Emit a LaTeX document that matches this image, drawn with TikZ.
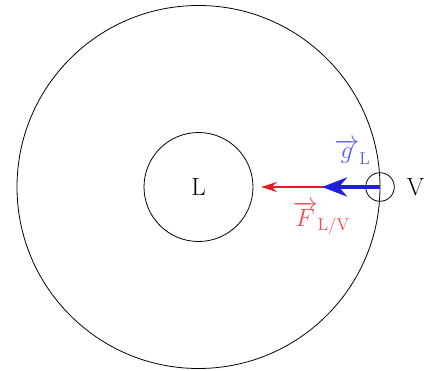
\documentclass[tikz,border=0pt]{standalone}
\usetikzlibrary{arrows.meta}
\definecolor{arrred}{RGB}{222,30,38}
\definecolor{arrblue}{RGB}{30,30,222}
\definecolor{txtred}{RGB}{250,70,70}
\definecolor{txtblue}{RGB}{90,90,250}
\begin{document}
\begin{tikzpicture}[x=1pt,y=1pt,
  circ/.style={draw,circle,line width=0.8pt,inner sep=0pt},
  lbl/.style={font=\huge,inner sep=0pt},
  redarrow/.style={draw=arrred,line width=2pt,-{Stealth[length=16pt,width=10pt]}},
  bluearrow/.style={draw=arrblue,line width=4pt,-{Stealth[length=25pt,width=19pt]}}]
\useasboundingbox (-198.5,-183) rectangle (229.5,187);
\node[circ,minimum size=363pt] (orbit) at (0,0) {};
\node[circ,minimum size=109pt] (L) at (0,0) {};
\node[lbl,scale=1.2] (Lt) at (L.center) {L};
\node[circ,minimum size=28.6pt] (V) at (181.5,0) {};
\node[lbl,scale=1.2,anchor=west] (Vl) at ([xshift=12pt]V.east) {V};
\coordinate (Ftip) at (62.5,0);
\coordinate (gtip) at (123.5,0);
\draw[redarrow] (V.center) -- (Ftip);
\draw[bluearrow] (V.center) -- (gtip);
\node[lbl,scale=1.2,text=txtblue] (g) at (154,35) {$\overrightarrow{g}_{\mathrm{L}}$};
\node[lbl,scale=1.2,text=txtred] (F) at (123,-31) {$\overrightarrow{F}_{\mathrm{L/V}}$};
\end{tikzpicture}
\end{document}
